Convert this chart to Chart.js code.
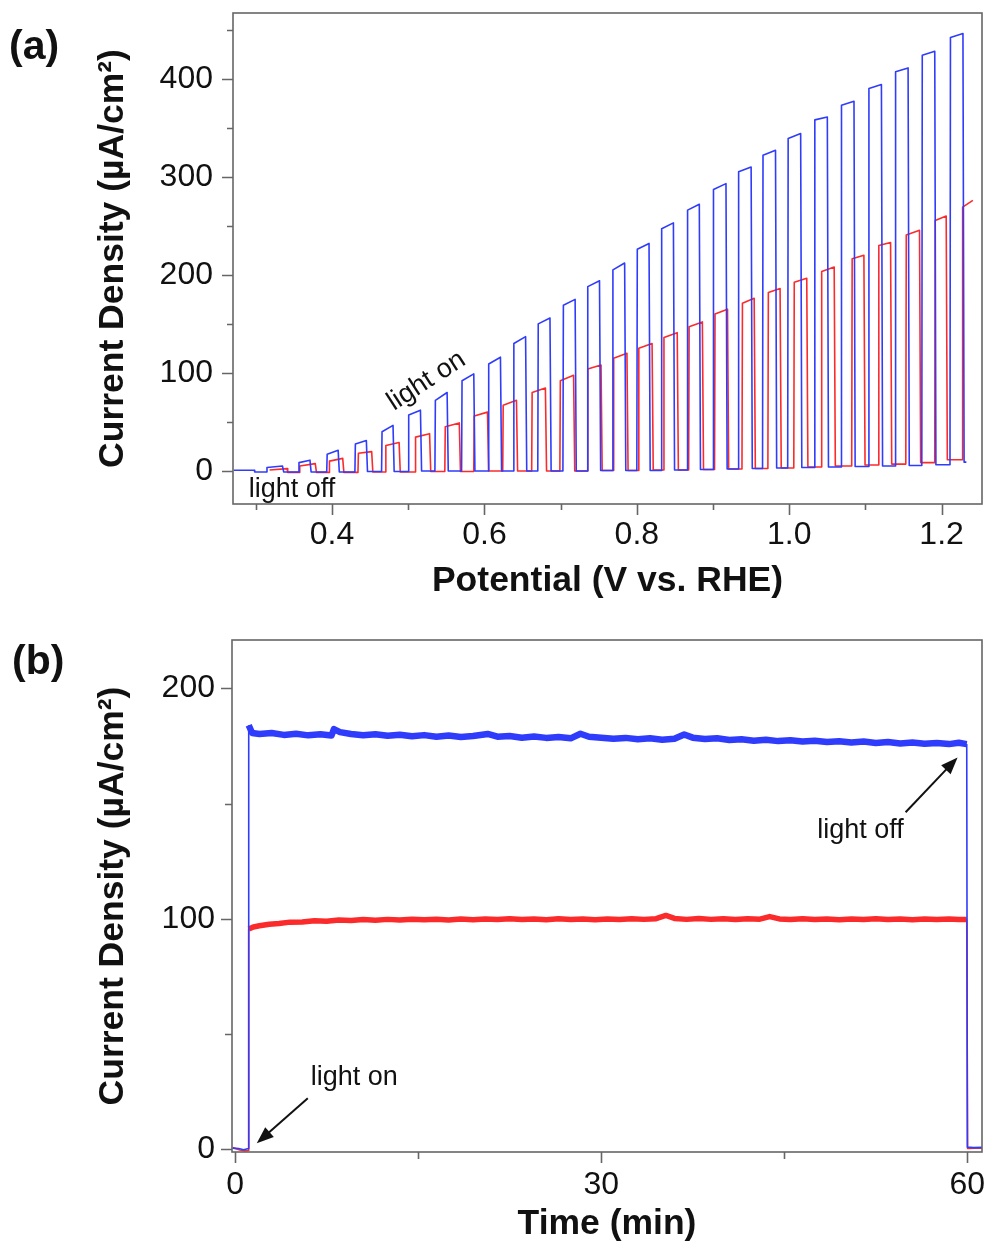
<!DOCTYPE html>
<html><head><meta charset="utf-8">
<script src="https://cdn.jsdelivr.net/npm/chart.js@4.4.1/dist/chart.umd.min.js"></script>
<style>
html,body{margin:0;padding:0;background:#fff;}
body{width:985px;height:1250px;position:relative;overflow:hidden;font-family:"Liberation Sans",Arial,Helvetica,sans-serif;}
.wrap{position:absolute;left:0;width:985px;}
#wa{top:0;height:615px;}
#wb{top:615px;height:635px;}
.plabel{position:absolute;font-weight:bold;font-size:41px;line-height:41px;color:#111;z-index:2;}
</style></head>
<body>
<div class="wrap" id="wa"><canvas id="ca"></canvas></div>
<div class="wrap" id="wb"><canvas id="cb"></canvas></div>
<div class="plabel" style="left:9px;top:25px">(a)</div>
<div class="plabel" style="left:12px;top:640px">(b)</div>
<script>
// ---------- Panel (a): chopped-light LSV ----------
const potentialTicks = [0.3, 0.4, 0.5, 0.6, 0.7, 0.8, 0.9, 1.0, 1.1, 1.2];
const potentialLabels = [0.4, 0.6, 0.8, 1.0, 1.2];
const currentTicksA = [0, 50, 100, 150, 200, 250, 300, 350, 400, 450];
const currentLabelsA = [0, 100, 200, 300, 400];

const blueLead = [[0.271, 0.7], [0.298, 0.7], [0.2985, -1]];
const blueOn = [0.314, 0.356, 0.393, 0.430, 0.465, 0.500, 0.535, 0.570, 0.605, 0.638, 0.670, 0.703, 0.735, 0.768, 0.800, 0.832, 0.866, 0.900, 0.933, 0.965, 0.998, 1.033, 1.068, 1.104, 1.139, 1.174, 1.211];
const blueOff = [0.335, 0.371, 0.408, 0.445, 0.480, 0.516, 0.551, 0.586, 0.621, 0.654, 0.686, 0.719, 0.751, 0.784, 0.816, 0.848, 0.882, 0.917, 0.950, 0.982, 1.015, 1.050, 1.085, 1.121, 1.156, 1.191, 1.228];
const blueTopStart = [3.5, 8.5, 17, 27.5, 40, 57, 72, 92, 109, 130, 150, 169, 188, 205, 226, 247, 266, 287, 305, 322, 339, 358, 373, 390, 407, 424, 442];
const blueTopEnd = [5, 11, 21, 31, 46.5, 62, 80, 99, 116, 137, 156, 175, 194, 212, 232, 253, 272, 293, 310, 327, 344, 361, 377, 394, 411, 428, 446];
const blueBase = [-1, -1, -1, -0.5, -0.5, 0, 0, 0, 0, 0, 0, 0, 0.5, 0.5, 0.5, 1, 1.5, 2, 2.5, 3, 3.5, 4, 4.5, 5, 5.5, 6.3, 9];
const blueEndV = 1.2325;

const redLead = [[0.318, 1.0], [0.341, 2.4], [0.3418, -1.5]];
const redOn = [0.357, 0.396, 0.434, 0.470, 0.509, 0.548, 0.586, 0.624, 0.662, 0.699, 0.735, 0.769, 0.802, 0.835, 0.868, 0.902, 0.938, 0.972, 1.006, 1.042, 1.082, 1.117, 1.153, 1.191, 1.227];
const redOff = [0.378, 0.414, 0.452, 0.488, 0.528, 0.567, 0.604, 0.642, 0.680, 0.717, 0.753, 0.787, 0.820, 0.853, 0.886, 0.919, 0.954, 0.988, 1.023, 1.059, 1.098, 1.133, 1.171, 1.206];
const redTopStart = [5, 10, 18, 26, 34.5, 45, 56, 67, 80, 92, 104, 115, 125, 136, 147, 160, 171, 182, 192.5, 203.5, 216.5, 230, 240.5, 255.5, 269];
const redTopEnd = [7.5, 12.8, 19.7, 29, 38, 49, 60, 72, 84.5, 97.5, 108, 120, 130, 141, 152, 165, 176, 186, 196.5, 208, 220, 233, 245.5, 260, 276];
const redBase = [-1.5, -1.5, -1, -1, -0.5, -0.5, 0, 0, 0, 0, 0.5, 0.5, 1, 1, 1.5, 2, 2.5, 3, 4, 5, 6, 7, 8.5, 11.5];
const redEndV = 1.241;

// ---------- Panel (b): chronoamperometry ----------
const timeTicks = [0, 15, 30, 45, 60];
const timeLabels = [0, 30, 60];
const currentTicksB = [0, 50, 100, 150, 200];
const currentLabelsB = [0, 100, 200];

const blueDarkT = [-0.2, 0.3, 0.7, 1.1];
const blueDarkV = [0.4, 0.2, -0.3, 0.2];
const blueLitT = [1.12,1.4,2,3,4,5,6,7,7.9,8.1,8.6,9.5,10.5,11.5,12.5,13.5,14.5,15.5,16.5,17.5,18.5,19.5,20.7,21.5,22.5,23.5,24.5,25.5,26.5,27.5,28.3,29,30,31,32,33,34,35,36,36.8,37.5,38.5,39.5,40.5,41.5,42.5,43.5,44.5,45.5,46.5,47.5,48.5,49.5,50.5,51.5,52.5,53.5,54.5,55.5,56.5,57.5,58.5,59.3,59.95];
const blueLitV = [184,180.6,180.2,180.6,179.8,180.3,179.6,180.1,179.5,182.3,181,180.2,179.6,180.1,179.4,179.9,179.2,179.7,179,179.5,178.9,179.3,180.2,179,179.3,178.6,179.1,178.5,178.9,178.3,180.3,179,178.6,178.1,178.5,177.9,178.3,177.7,178.1,180,178.6,178,178.3,177.6,177.9,177.3,177.7,177.1,177.5,176.9,177.3,176.7,177,176.5,176.9,176.3,176.7,176.1,176.5,176,176.3,175.8,176.4,175.8];
const blueAfterT = [60.0, 60.5, 61.2];
const blueAfterV = [0.8, 0.6, 0.7];

const redDarkT = [-0.2, 0.4, 0.8, 1.1];
const redDarkV = [0.6, -0.4, -0.8, -0.6];
const redLitT = [1.12,1.5,2,2.8,3.6,4.5,5.5,6.5,7.5,8.5,9.5,10.5,11.5,12.5,13.5,14.5,15.5,16.5,17.5,18.5,19.5,20.5,21.5,22.5,23.5,24.5,25.5,26.5,27.5,28.5,29.5,30.5,31.5,32.5,33.5,34.5,35.3,36,37,38,39,40,41,42,43,43.8,44.6,45.5,46.5,47.5,48.5,49.5,50.5,51.5,52.5,53.5,54.5,55.5,56.5,57.5,58.5,59.3,59.95];
const redLitV = [95.5,96.4,96.9,97.6,97.9,98.5,98.6,99.1,98.9,99.4,99.2,99.6,99.3,99.7,99.4,99.8,99.5,99.8,99.4,99.9,99.5,99.9,99.6,100,99.6,99.9,99.5,100,99.6,99.9,99.5,99.9,99.6,100,99.7,100,101.4,100.1,99.7,100.1,99.7,100,99.6,100,99.8,100.9,99.9,99.6,100,99.6,99.9,99.5,99.9,99.6,100,99.6,99.9,99.5,99.9,99.6,99.9,99.6,99.7];
const redAfterT = [60.02, 60.6, 61.2];
const redAfterV = [0.2, 0.4, 0.3];

// ---------- helpers ----------
const FONT = '"Liberation Sans", Arial, Helvetica, sans-serif';
const BLUE = '#2f3cfb';
const RED = '#fb2b2b';
Chart.defaults.font.family = FONT;
Chart.defaults.color = '#111';

function chopTrace(lead, on, off, topS, topE, base, endX) {
  const pts = lead.map(p => ({x: p[0], y: p[1]}));
  let prev = lead[lead.length - 1][1];
  for (let i = 0; i < on.length; i++) {
    pts.push({x: on[i], y: prev});
    pts.push({x: on[i] + 0.0006, y: topS[i]});
    if (i < off.length) {
      pts.push({x: off[i], y: topE[i]});
      pts.push({x: off[i] + 0.0015, y: base[i]});
      prev = base[i];
    } else {
      pts.push({x: endX, y: topE[i]});
    }
  }
  if (off.length === on.length) pts.push({x: endX, y: prev});
  return pts;
}
function pairs(t, v) { return t.map((x, i) => ({x, y: v[i]})); }

const framePlugin = {
  id: 'frame',
  afterDraw(chart, args, o) {
    const {ctx, chartArea: a} = chart;
    const xs = chart.scales.x, ys = chart.scales.y;
    ctx.save();
    ctx.strokeStyle = '#666';
    ctx.lineWidth = 1.6;
    ctx.strokeRect(a.left, a.top, a.right - a.left, a.bottom - a.top);
    ctx.beginPath();
    xs.ticks.forEach(t => {
      const p = Math.round(xs.getPixelForValue(t.value)) + 0.5;
      const len = (t.label !== '' && t.label != null) ? o.major : o.minor;
      ctx.moveTo(p, a.bottom); ctx.lineTo(p, a.bottom + len);
    });
    ys.ticks.forEach(t => {
      const p = Math.round(ys.getPixelForValue(t.value)) + 0.5;
      const len = (t.label !== '' && t.label != null) ? o.major : o.minor;
      ctx.moveTo(a.left, p); ctx.lineTo(a.left - len, p);
    });
    ctx.stroke();
    (o.texts || []).forEach(tx => {
      ctx.save();
      ctx.translate(xs.getPixelForValue(tx.x), ys.getPixelForValue(tx.y));
      ctx.rotate((tx.rot || 0) * Math.PI / 180);
      ctx.font = '27px ' + FONT;
      ctx.fillStyle = '#111';
      ctx.textAlign = 'center';
      ctx.textBaseline = tx.base || 'alphabetic';
      ctx.fillText(tx.text, 0, 0);
      ctx.restore();
    });
    (o.arrows || []).forEach(ar => {
      const x1 = xs.getPixelForValue(ar[0]), y1 = ys.getPixelForValue(ar[1]);
      const x2 = xs.getPixelForValue(ar[2]), y2 = ys.getPixelForValue(ar[3]);
      const ang = Math.atan2(y2 - y1, x2 - x1);
      const L = 17, W = 6.5;
      ctx.strokeStyle = '#111'; ctx.fillStyle = '#111'; ctx.lineWidth = 2;
      ctx.beginPath();
      ctx.moveTo(x1, y1);
      ctx.lineTo(x2 - (L - 2) * Math.cos(ang), y2 - (L - 2) * Math.sin(ang));
      ctx.stroke();
      ctx.beginPath();
      ctx.moveTo(x2, y2);
      ctx.lineTo(x2 - L * Math.cos(ang) + W * Math.sin(ang), y2 - L * Math.sin(ang) - W * Math.cos(ang));
      ctx.lineTo(x2 - L * Math.cos(ang) - W * Math.sin(ang), y2 - L * Math.sin(ang) + W * Math.cos(ang));
      ctx.closePath();
      ctx.fill();
    });
    ctx.restore();
  }
};

function labelFor(labels, v, fmt) {
  const hit = labels.find(l => Math.abs(l - v) < 1e-6);
  return hit === undefined ? '' : fmt(hit);
}
function noPad(s) { s.paddingTop = 0; s.paddingBottom = 0; s.paddingLeft = 0; s.paddingRight = 0; }
function axisX(min, max, tickVals, labels, fmt, h, tickPad, titleText, titlePadB) {
  return {
    type: 'linear', min, max, position: 'bottom',
    grid: {display: true, drawOnChartArea: false, drawTicks: true, tickLength: 11, tickColor: 'rgba(0,0,0,0)'},
    border: {display: false},
    afterBuildTicks: s => { s.ticks = tickVals.map(v => ({value: v})); },
    ticks: {autoSkip: false, maxRotation: 0, padding: tickPad, font: {size: 32}, color: '#111',
      callback: v => labelFor(labels, v, fmt)},
    title: {display: true, text: titleText, font: {size: 35.5, weight: 'bold'}, color: '#111', padding: {top: 0, bottom: titlePadB}},
    afterFit: s => { s.height = h; noPad(s); }
  };
}
function axisY(min, max, tickVals, labels, w, tickPad, titleText) {
  return {
    type: 'linear', min, max, position: 'left',
    grid: {display: true, drawOnChartArea: false, drawTicks: true, tickLength: 11, tickColor: 'rgba(0,0,0,0)'},
    border: {display: false},
    afterBuildTicks: s => { s.ticks = tickVals.map(v => ({value: v})); },
    ticks: {autoSkip: false, padding: tickPad, font: {size: 32}, color: '#111',
      callback: v => labelFor(labels, v, x => String(x))},
    title: {display: true, text: titleText, font: {size: 35.5, weight: 'bold'}, color: '#111', padding: {top: 92, bottom: 0}},
    afterFit: s => { s.width = w; noPad(s); }
  };
}

const lineDs = (data, color, width) => ({
  data, borderColor: color, backgroundColor: color, borderWidth: width,
  pointRadius: 0, tension: 0, fill: false, spanGaps: false, borderJoinStyle: 'round'
});

// ---------- chart (a) ----------
new Chart(document.getElementById('ca'), {
  type: 'line',
  data: {datasets: [
    lineDs(chopTrace(blueLead, blueOn, blueOff, blueTopStart, blueTopEnd, blueBase, blueEndV), BLUE, 1.6),
    lineDs(chopTrace(redLead, redOn, redOff, redTopStart, redTopEnd, redBase, redEndV), RED, 1.6)
  ]},
  options: {
    responsive: true, maintainAspectRatio: false, animation: false, devicePixelRatio: 1,
    parsing: false,
    layout: {padding: {left: 0, right: 3, top: 13, bottom: 0}},
    plugins: {legend: {display: false}, tooltip: {enabled: false},
      frame: {major: 11, minor: 6,
        texts: [{x: 0.524, y: 91.7, text: 'light on', rot: -33, base: 'middle'},
                {x: 0.3474, y: -26.8, text: 'light off'}]}},
    scales: {
      x: axisX(0.270, 1.253, potentialTicks, potentialLabels, v => v.toFixed(1), 111, 1, 'Potential (V vs. RHE)', 12.7),
      y: axisY(-33.7, 467, currentTicksA, currentLabelsA, 233, 9, 'Current Density (µA/cm²)')
    }
  },
  plugins: [framePlugin]
});

// ---------- chart (b) ----------
const blueThin = [...pairs(blueDarkT, blueDarkV), {x: blueLitT[0], y: blueLitV[0]}, {x: 30, y: null},
  {x: blueLitT[blueLitT.length - 1], y: blueLitV[blueLitV.length - 1]}, ...pairs(blueAfterT, blueAfterV)];
const redThin = [...pairs(redDarkT, redDarkV), {x: redLitT[0], y: redLitV[0]}, {x: 30, y: null},
  {x: redLitT[redLitT.length - 1], y: redLitV[redLitV.length - 1]}, ...pairs(redAfterT, redAfterV)];

new Chart(document.getElementById('cb'), {
  type: 'line',
  data: {datasets: [
    lineDs(blueThin, BLUE, 1.6),
    lineDs(pairs(blueLitT, blueLitV), BLUE, 6.5),
    lineDs(redThin, RED, 1.6),
    lineDs(pairs(redLitT, redLitV), RED, 5.5)
  ]},
  options: {
    responsive: true, maintainAspectRatio: false, animation: false, devicePixelRatio: 1,
    parsing: false,
    layout: {padding: {left: 0, right: 3, top: 25, bottom: 0}},
    plugins: {legend: {display: false}, tooltip: {enabled: false},
      frame: {major: 11, minor: 7,
        texts: [{x: 9.76, y: 27.9, text: 'light on'}, {x: 51.25, y: 135, text: 'light off'}],
        arrows: [[5.96, 22, 1.78, 2.5], [54.94, 146.2, 59.2, 170]]}},
    scales: {
      x: axisX(-0.25, 61.2, timeTicks, timeLabels, v => String(v), 98, 3, 'Time (min)', 4.3),
      y: axisY(-1.3, 221, currentTicksB, currentLabelsB, 232, 6, 'Current Density (µA/cm²)')
    }
  },
  plugins: [framePlugin]
});
</script>
</body></html>
